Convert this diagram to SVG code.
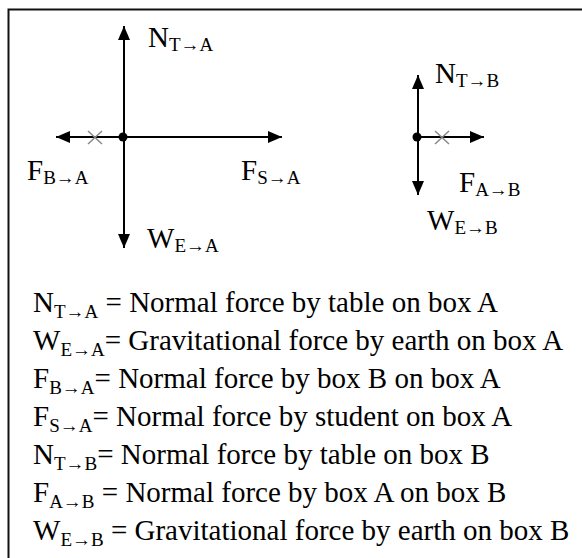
<svg xmlns="http://www.w3.org/2000/svg" width="582" height="558" viewBox="0 0 582 558">
<style>
text{font-family:"Liberation Serif","Times New Roman",serif;font-size:29px;fill:#000}
.sub{font-size:19px}
.ln{stroke:#000;stroke-width:2;fill:none}
.x{stroke:#888;stroke-width:1.5;fill:none}
.frame{stroke:#111;stroke-width:2;fill:none}
</style>
<defs>
<marker id="ah" viewBox="0 0 14 12" refX="14" refY="6" markerWidth="14" markerHeight="12" markerUnits="userSpaceOnUse" orient="auto">
<path d="M0,0 L14,6 L0,12 Z" fill="#000"/>
</marker>
</defs>
<rect width="582" height="558" fill="#fff"/>
<path class="frame" d="M8.5,558 V9.5 H582"/>
<g id="connectors">
<line class="ln" x1="124" y1="137" x2="124" y2="26" marker-end="url(#ah)"/>
<line class="ln" x1="124" y1="137" x2="124" y2="248" marker-end="url(#ah)"/>
<line class="ln" x1="124" y1="137" x2="56" y2="137" marker-end="url(#ah)"/>
<line class="ln" x1="124" y1="137" x2="282" y2="137" marker-end="url(#ah)"/>
<line class="ln" x1="418" y1="137" x2="418" y2="75" marker-end="url(#ah)"/>
<line class="ln" x1="418" y1="137" x2="418" y2="195" marker-end="url(#ah)"/>
<line class="ln" x1="418" y1="137" x2="484" y2="137" marker-end="url(#ah)"/>
</g>
<g id="boxA">
<circle cx="123" cy="137" r="4.5" fill="#000"/>
<path class="x" d="M88,131 L102,144 M88,144 L102,131"/>
</g>
<g id="boxB">
<circle cx="417" cy="137" r="4.5" fill="#000"/>
<path class="x" d="M435,131 L449,144 M435,144 L449,131"/>
</g>
<g id="labels">
<text x="148" y="47">N<tspan class="sub" dy="4">T→A</tspan></text>
<text x="27" y="180">F<tspan class="sub" dy="4">B→A</tspan></text>
<text x="241" y="180">F<tspan class="sub" dy="4">S→A</tspan></text>
<text x="147" y="248">W<tspan class="sub" dy="4">E→A</tspan></text>
<text x="435" y="83">N<tspan class="sub" dy="4">T→B</tspan></text>
<text x="459" y="192">F<tspan class="sub" dy="4">A→B</tspan></text>
<text x="427" y="230">W<tspan class="sub" dy="4">E→B</tspan></text>
</g>
<g id="legend">
<text x="33" y="312">N<tspan class="sub" dy="6">T→A</tspan><tspan dy="-6"> = Normal force by table on box A</tspan></text>
<text x="33" y="350">W<tspan class="sub" dy="6">E→A</tspan><tspan dy="-6">= Gravitational force by earth on box A</tspan></text>
<text x="33" y="388">F<tspan class="sub" dy="6">B→A</tspan><tspan dy="-6">= Normal force by box B on box A</tspan></text>
<text x="33" y="426">F<tspan class="sub" dy="6">S→A</tspan><tspan dy="-6">= Normal force by student on box A</tspan></text>
<text x="33" y="464">N<tspan class="sub" dy="6">T→B</tspan><tspan dy="-6">= Normal force by table on box B</tspan></text>
<text x="33" y="502">F<tspan class="sub" dy="6">A→B</tspan><tspan dy="-6"> = Normal force by box A on box B</tspan></text>
<text x="33" y="540">W<tspan class="sub" dy="6">E→B</tspan><tspan dy="-6"> = Gravitational force by earth on box B</tspan></text>
</g>
</svg>
